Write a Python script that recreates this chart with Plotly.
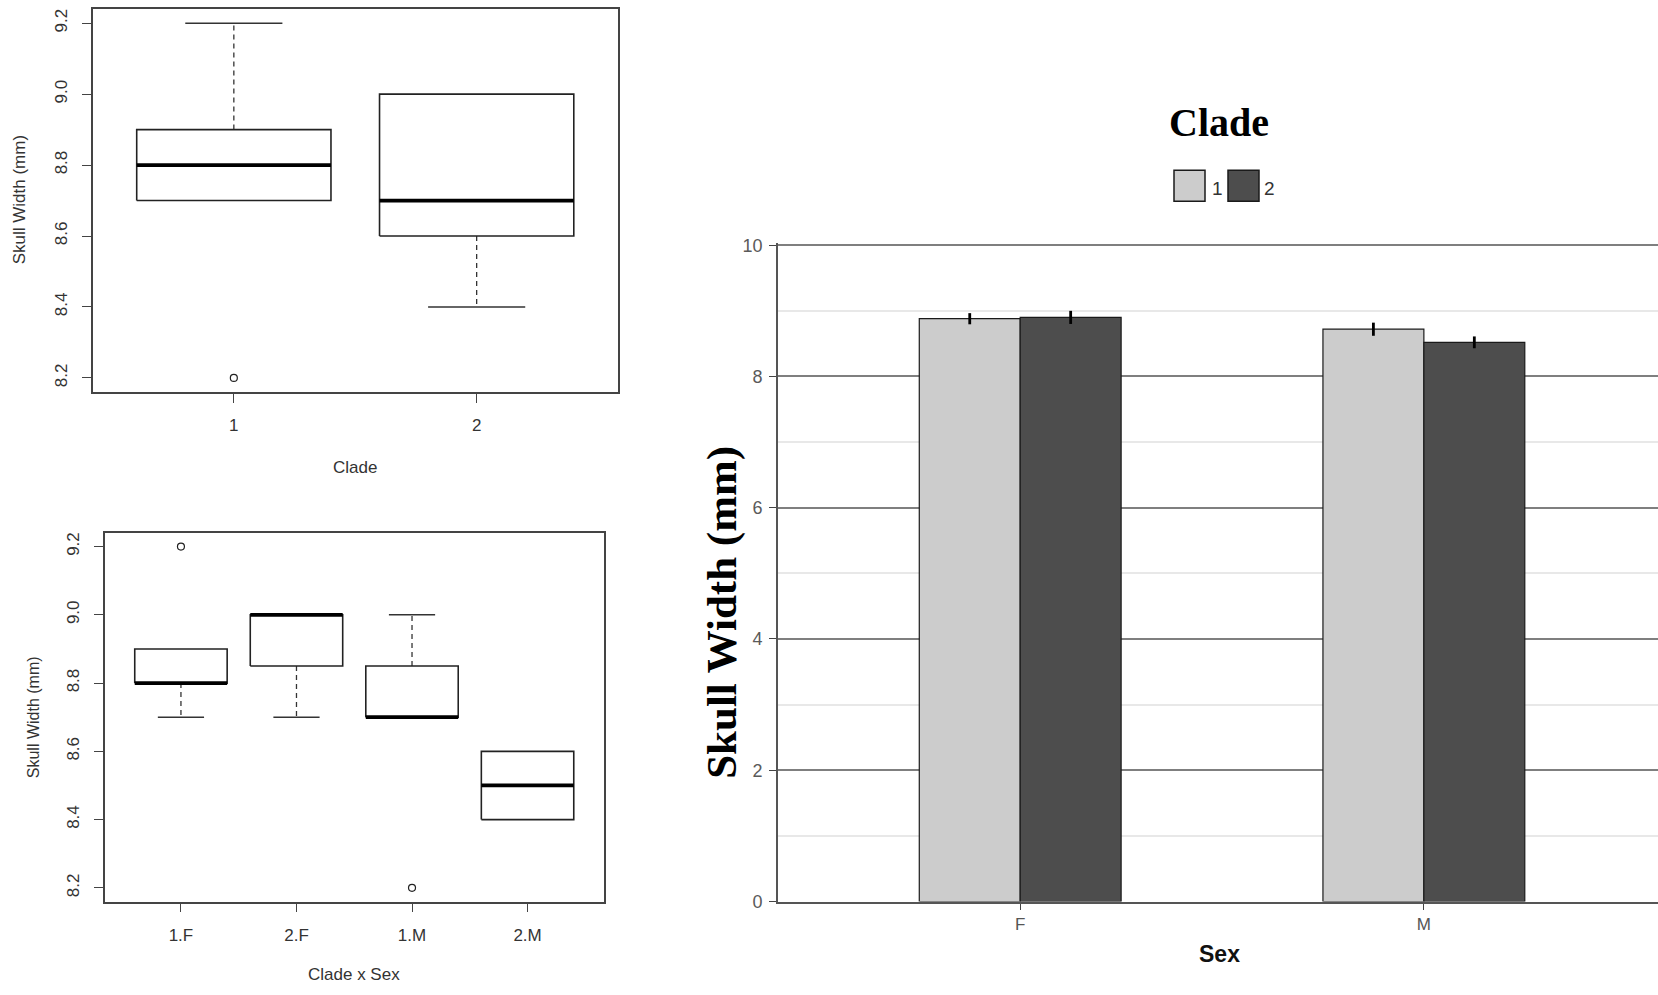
import plotly.graph_objects as go

# ---------------- data ----------------
# Top-left boxplot: Skull width by Clade
clade_labels = ["1", "2"]
clade_lower = [8.7, 8.4]
clade_q1 = [8.7, 8.6]
clade_median = [8.8, 8.7]
clade_q3 = [8.9, 9.0]
clade_upper = [9.2, 9.0]
clade_outliers = [[8.2], []]

# Bottom-left boxplot: Skull width by Clade x Sex
cs_labels = ["1.F", "2.F", "1.M", "2.M"]
cs_lower = [8.7, 8.7, 8.7, 8.4]
cs_q1 = [8.8, 8.85, 8.7, 8.4]
cs_median = [8.8, 9.0, 8.7, 8.5]
cs_q3 = [8.9, 9.0, 8.85, 8.6]
cs_upper = [8.9, 9.0, 9.0, 8.6]
cs_outliers = [[9.2], [], [8.2], []]

# Right bar chart: mean skull width by Sex and Clade
sex_labels = ["F", "M"]
clade_names = ["1", "2"]
clade1_mean = [8.88, 8.72]
clade2_mean = [8.90, 8.52]
clade1_se = [0.085, 0.10]
clade2_se = [0.10, 0.09]
bar_colors = ["#CCCCCC", "#4D4D4D"]

W, H = 1658, 995


def px(x):
    return x / W


def py(y):
    # target pixel row -> paper coordinate (compensates the page's vertical offset/scale)
    return 1 - ((y - 7.5) / 0.983) / H


fig = go.Figure()

RFONT = "Liberation Sans, Arial, sans-serif"
SERIF = "Liberation Serif, Times New Roman, serif"
BOX_HALF = 0.4
STAPLE_HALF = 0.2


def add_rbox(labels, lower, q1, med, q3, upper, outl, xa, ya):
    bx, by, mx, my, wx, wy, sx, sy, ox, oy = [], [], [], [], [], [], [], [], [], []
    for i in range(len(labels)):
        c = i + 1
        bx += [c - BOX_HALF, c + BOX_HALF, c + BOX_HALF, c - BOX_HALF, c - BOX_HALF, None]
        by += [q1[i], q1[i], q3[i], q3[i], q1[i], None]
        mx += [c - BOX_HALF, c + BOX_HALF, None]
        my += [med[i], med[i], None]
        if upper[i] > q3[i]:
            wx += [c, c, None]
            wy += [q3[i], upper[i], None]
            sx += [c - STAPLE_HALF, c + STAPLE_HALF, None]
            sy += [upper[i], upper[i], None]
        if lower[i] < q1[i]:
            wx += [c, c, None]
            wy += [q1[i], lower[i], None]
            sx += [c - STAPLE_HALF, c + STAPLE_HALF, None]
            sy += [lower[i], lower[i], None]
        for v in outl[i]:
            ox.append(c)
            oy.append(v)
    common = dict(xaxis=xa, yaxis=ya, showlegend=False, hoverinfo="skip")
    fig.add_trace(go.Scatter(x=wx, y=wy, mode="lines",
                             line=dict(color="#333333", width=1.3, dash="5px,4px"), **common))
    fig.add_trace(go.Scatter(x=sx, y=sy, mode="lines",
                             line=dict(color="#333333", width=1.5), **common))
    fig.add_trace(go.Scatter(x=bx, y=by, mode="lines",
                             line=dict(color="#222222", width=1.6), **common))
    fig.add_trace(go.Scatter(x=mx, y=my, mode="lines",
                             line=dict(color="#000000", width=3.8), **common))
    fig.add_trace(go.Scatter(x=ox, y=oy, mode="markers",
                             marker=dict(symbol="circle-open", size=7,
                                         line=dict(color="#222222", width=1.2),
                                         color="#222222"), **common))


add_rbox(clade_labels, clade_lower, clade_q1, clade_median, clade_q3, clade_upper,
         clade_outliers, "x", "y")
add_rbox(cs_labels, cs_lower, cs_q1, cs_median, cs_q3, cs_upper, cs_outliers, "x2", "y2")

# Bars
for name, means, ses, col in zip(clade_names, [clade1_mean, clade2_mean],
                                 [clade1_se, clade2_se], bar_colors):
    fig.add_trace(go.Bar(
        x=sex_labels, y=means, name=name, xaxis="x3", yaxis="y3",
        marker=dict(color=col, line=dict(color="#1a1a1a", width=1.2)),
        error_y=dict(type="data", array=ses, visible=True, color="#000000",
                     thickness=2.8, width=0),
        showlegend=False,
    ))


def r_range(*groups):
    vals = []
    for g in groups:
        for v in g:
            if isinstance(v, list):
                vals += v
            else:
                vals.append(v)
    lo, hi = min(vals), max(vals)
    pad = 0.04 * (hi - lo)
    return [lo - pad, hi + pad]


top_range = r_range(clade_lower, clade_upper, clade_outliers)
bot_range = r_range(cs_lower, cs_upper, cs_outliers)

r_x_common = dict(showline=True, mirror=True, linecolor="#444444", linewidth=1.5,
                  ticks="outside", ticklen=9, tickwidth=1.4, tickcolor="#444444",
                  showgrid=False, zeroline=False,
                  tickfont=dict(family=RFONT, size=17, color="#333333"),
                  ticklabelstandoff=8)
r_y_common = dict(showline=True, mirror=True, linecolor="#444444", linewidth=1.5,
                  ticks="outside", ticklen=9, tickwidth=1.4, tickcolor="#444444",
                  showgrid=False, zeroline=False, tickangle=-90,
                  tickmode="linear", tick0=8.2, dtick=0.2, tickformat=".1f",
                  tickfont=dict(family=RFONT, size=17, color="#333333"),
                  ticklabelstandoff=8)

n1 = len(clade_labels)
n2 = len(cs_labels)
fig.update_layout(
    width=W, height=H,
    margin=dict(l=0, r=0, t=0, b=0),
    paper_bgcolor="white", plot_bgcolor="white",
    bargap=0.5, bargroupgap=0, barmode="group",
    showlegend=False,
    xaxis=dict(domain=[px(93), px(617.5)], anchor="y",
               range=[0.5 - 0.04 * n1, n1 + 0.5 + 0.04 * n1],
               tickmode="array", tickvals=list(range(1, n1 + 1)), ticktext=clade_labels,
               **r_x_common),
    yaxis=dict(domain=[py(392), py(8.5)], anchor="x", range=top_range, **r_y_common),
    xaxis2=dict(domain=[px(104.7), px(603.8)], anchor="y2",
                range=[0.5 - 0.04 * n2, n2 + 0.5 + 0.04 * n2],
                tickmode="array", tickvals=list(range(1, n2 + 1)), ticktext=cs_labels,
                **r_x_common),
    yaxis2=dict(domain=[py(902), py(533)], anchor="x2", range=bot_range, **r_y_common),
    xaxis3=dict(domain=[px(778), 1.0], anchor="y3", type="category",
                range=[-0.6, 1.58],
                showline=True, linecolor="#555555", linewidth=2,
                ticks="outside", ticklen=6, tickwidth=1.2, tickcolor="#444444",
                showgrid=False, zeroline=False,
                tickfont=dict(family=RFONT, size=17, color="#555555"),
                ticklabelstandoff=0),
    yaxis3=dict(domain=[py(902), py(243)], anchor="x3", range=[0, 10.03],
                tickmode="linear", tick0=0, dtick=2,
                showline=True, linecolor="#555555", linewidth=1.8,
                ticks="outside", ticklen=7, tickwidth=1.4, tickcolor="#444444",
                showgrid=True, gridcolor="#7f7f7f", gridwidth=2,
                zeroline=False,
                minor=dict(dtick=1, showgrid=True, gridcolor="#e8e8e8", gridwidth=2),
                tickfont=dict(family=RFONT, size=18, color="#5a5a5a"),
                ticklabelstandoff=3),
)

annotations = [
    # top-left axis titles
    dict(x=px(355), y=py(468), text="Clade", font=dict(family=RFONT, size=17, color="#333333")),
    dict(x=px(19), y=py(200), text="Skull Width (mm)", textangle=-90,
         font=dict(family=RFONT, size=17, color="#333333")),
    # bottom-left axis titles
    dict(x=px(354), y=py(975), text="Clade x Sex", font=dict(family=RFONT, size=17, color="#333333")),
    dict(x=px(33), y=py(717.5), text="Skull Width (mm)", textangle=-90,
         font=dict(family=RFONT, size=16, color="#333333")),
    # right chart titles
    dict(x=px(1219), y=py(955), text="<b>Sex</b>", font=dict(family=RFONT, size=23, color="#111111")),
    dict(x=px(722), y=py(613), text="<b>Skull Width (mm)</b>", textangle=-90,
         font=dict(family=SERIF, size=43, color="#000000")),
    dict(x=px(1219), y=py(122), text="<b>Clade</b>",
         font=dict(family=SERIF, size=40, color="#000000")),
    dict(x=px(1217), y=py(188), text=clade_names[0], font=dict(family=RFONT, size=19, color="#333333")),
    dict(x=px(1269), y=py(188), text=clade_names[1], font=dict(family=RFONT, size=19, color="#333333")),
]
for a in annotations:
    a.update(xref="paper", yref="paper", showarrow=False, xanchor="center", yanchor="middle")
fig.update_layout(annotations=annotations)

# legend keys
key_x = [1174, 1228]
shapes = []
for kx, col in zip(key_x, bar_colors):
    shapes.append(dict(type="rect", xref="paper", yref="paper",
                       x0=px(kx), x1=px(kx + 31), y0=py(201), y1=py(170),
                       fillcolor=col, line=dict(color="#1a1a1a", width=1.5)))
fig.update_layout(shapes=shapes)

fig.write_html("out.html")
